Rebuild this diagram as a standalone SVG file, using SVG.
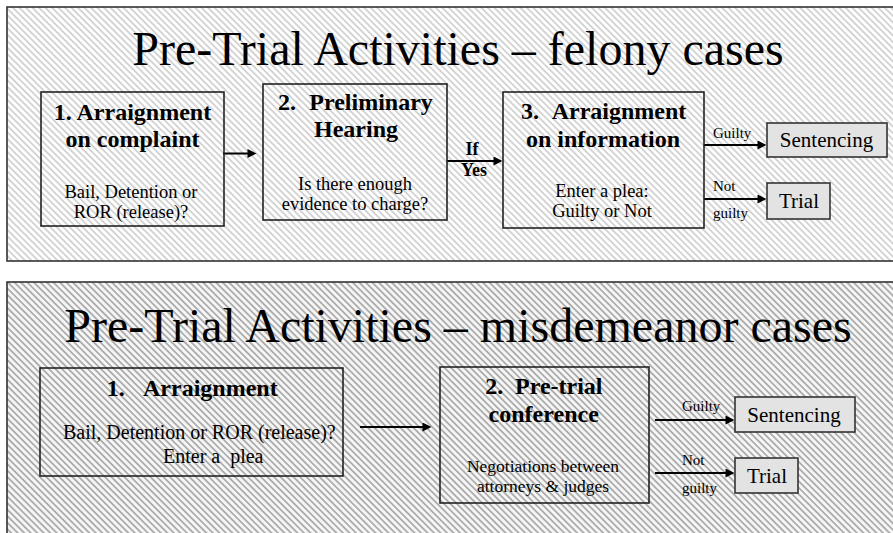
<svg xmlns="http://www.w3.org/2000/svg" width="893" height="533" viewBox="0 0 893 533" font-family="Liberation Serif">
<style>
.title{font-size:48px;text-anchor:middle}
.b{font-size:24px;font-weight:bold}
.bm{font-size:24px;font-weight:bold;text-anchor:middle}
.r{font-size:18.5px;text-anchor:middle}
.lbl{font-size:15px}
.yl{font-size:18px;font-weight:bold;text-anchor:middle}
.out{font-size:21px;text-anchor:middle}
.node{fill:none;stroke:#222;stroke-width:1.6}
.obox{fill:#e3e3e3;stroke:#333;stroke-width:1.6}
.panel{stroke:#333;stroke-width:1.6}
.arr{stroke:#000;stroke-width:2;fill:none;marker-end:url(#ah)}
</style>
<defs>
<pattern id="hatchL" patternUnits="userSpaceOnUse" width="10" height="4.6" patternTransform="rotate(45)">
<rect width="10" height="4.6" fill="#ffffff"/>
<rect y="0" width="10" height="1.8" fill="#d2d2d2"/>
</pattern>
<pattern id="hatchD" patternUnits="userSpaceOnUse" width="10" height="4.6" patternTransform="rotate(45)">
<rect width="10" height="4.6" fill="#f6f6f6"/>
<rect y="0" width="10" height="1.8" fill="#acacac"/>
</pattern>
<marker id="ah" viewBox="0 0 10 10" refX="5" refY="5" markerWidth="10" markerHeight="9" markerUnits="userSpaceOnUse" orient="auto">
<path d="M0,0 L10,5 L0,10 z" fill="#000"/>
</marker>
</defs>

<g id="panel-felony">
<rect class="panel" x="7" y="7" width="900" height="254" fill="url(#hatchL)"/>
<text class="title" x="458" y="65">Pre-Trial Activities – felony cases</text>
</g>

<g id="panel-misdemeanor">
<rect class="panel" x="7" y="282" width="900" height="262" fill="url(#hatchD)"/>
<text class="title" x="458" y="342">Pre-Trial Activities – misdemeanor cases</text>
</g>

<g id="connectors">
<line class="arr" x1="223" y1="153.5" x2="252" y2="153.5"/>
<line class="arr" x1="447" y1="161" x2="498" y2="161"/>
<line class="arr" x1="704" y1="145" x2="762" y2="145"/>
<line class="arr" x1="704" y1="199" x2="762" y2="199"/>
<line class="arr" x1="360" y1="427" x2="427" y2="427"/>
<line class="arr" x1="655" y1="420" x2="730" y2="420"/>
<line class="arr" x1="655" y1="473" x2="730" y2="473"/>
<text class="yl" x="472" y="155">If</text>
<text class="yl" x="474" y="176">Yes</text>
<text class="lbl" x="713" y="138">Guilty</text>
<text class="lbl" x="713" y="191">Not</text>
<text class="lbl" x="713" y="218">guilty</text>
<text class="lbl" x="682" y="411">Guilty</text>
<text class="lbl" x="682" y="465">Not</text>
<text class="lbl" x="682" y="493">guilty</text>
</g>

<g id="f-arraignment-complaint">
<rect class="node" x="41" y="92" width="183" height="134"/>
<text class="bm" x="132.5" y="119.5">1. Arraignment</text>
<text class="bm" x="132.5" y="146.5">on complaint</text>
<text class="r" x="131" y="198">Bail, Detention or</text>
<text class="r" x="131" y="218">ROR (release)?</text>
</g>

<g id="f-preliminary-hearing">
<rect class="node" x="263" y="84" width="184" height="136"/>
<text class="b" y="110"><tspan x="278">2.</tspan><tspan x="309.3">Preliminary</tspan></text>
<text class="bm" x="356" y="137">Hearing</text>
<text class="r" x="355" y="190">Is there enough</text>
<text class="r" x="355" y="210">evidence to charge?</text>
</g>

<g id="f-arraignment-information">
<rect class="node" x="503" y="92" width="201" height="136"/>
<text class="b" y="119"><tspan x="521">3.</tspan><tspan x="551.7">Arraignment</tspan></text>
<text class="bm" x="603" y="147">on information</text>
<text class="r" x="602" y="197">Enter a plea:</text>
<text class="r" x="602" y="217">Guilty or Not</text>
</g>

<g id="f-sentencing">
<rect class="obox" x="767" y="123" width="120" height="34"/>
<text class="out" x="826.5" y="147">Sentencing</text>
</g>

<g id="f-trial">
<rect class="obox" x="767" y="183" width="63" height="36"/>
<text class="out" x="799" y="208">Trial</text>
</g>

<g id="m-arraignment">
<rect class="node" x="40" y="368" width="303" height="108"/>
<text class="b" y="396"><tspan x="106.7">1.</tspan><tspan x="143">Arraignment</tspan></text>
<text x="63" y="439" font-size="20">Bail, Detention or ROR (release)?</text>
<text x="163" y="463" font-size="20" xml:space="preserve">Enter a  plea</text>
</g>

<g id="m-pretrial-conference">
<rect class="node" x="440" y="367" width="209" height="136"/>
<text class="b" y="394"><tspan x="485.3">2.</tspan><tspan x="515">Pre-trial</tspan></text>
<text class="bm" x="543.7" y="422">conference</text>
<text class="r" x="543" y="472" font-size="17.5" style="font-size:17.5px">Negotiations between</text>
<text class="r" x="543" y="491.5" style="font-size:17.5px">attorneys &amp; judges</text>
</g>

<g id="m-sentencing">
<rect class="obox" x="735" y="397" width="120" height="35"/>
<text class="out" x="794" y="422">Sentencing</text>
</g>

<g id="m-trial">
<rect class="obox" x="735" y="458" width="63" height="35"/>
<text class="out" x="767" y="483">Trial</text>
</g>
</svg>
